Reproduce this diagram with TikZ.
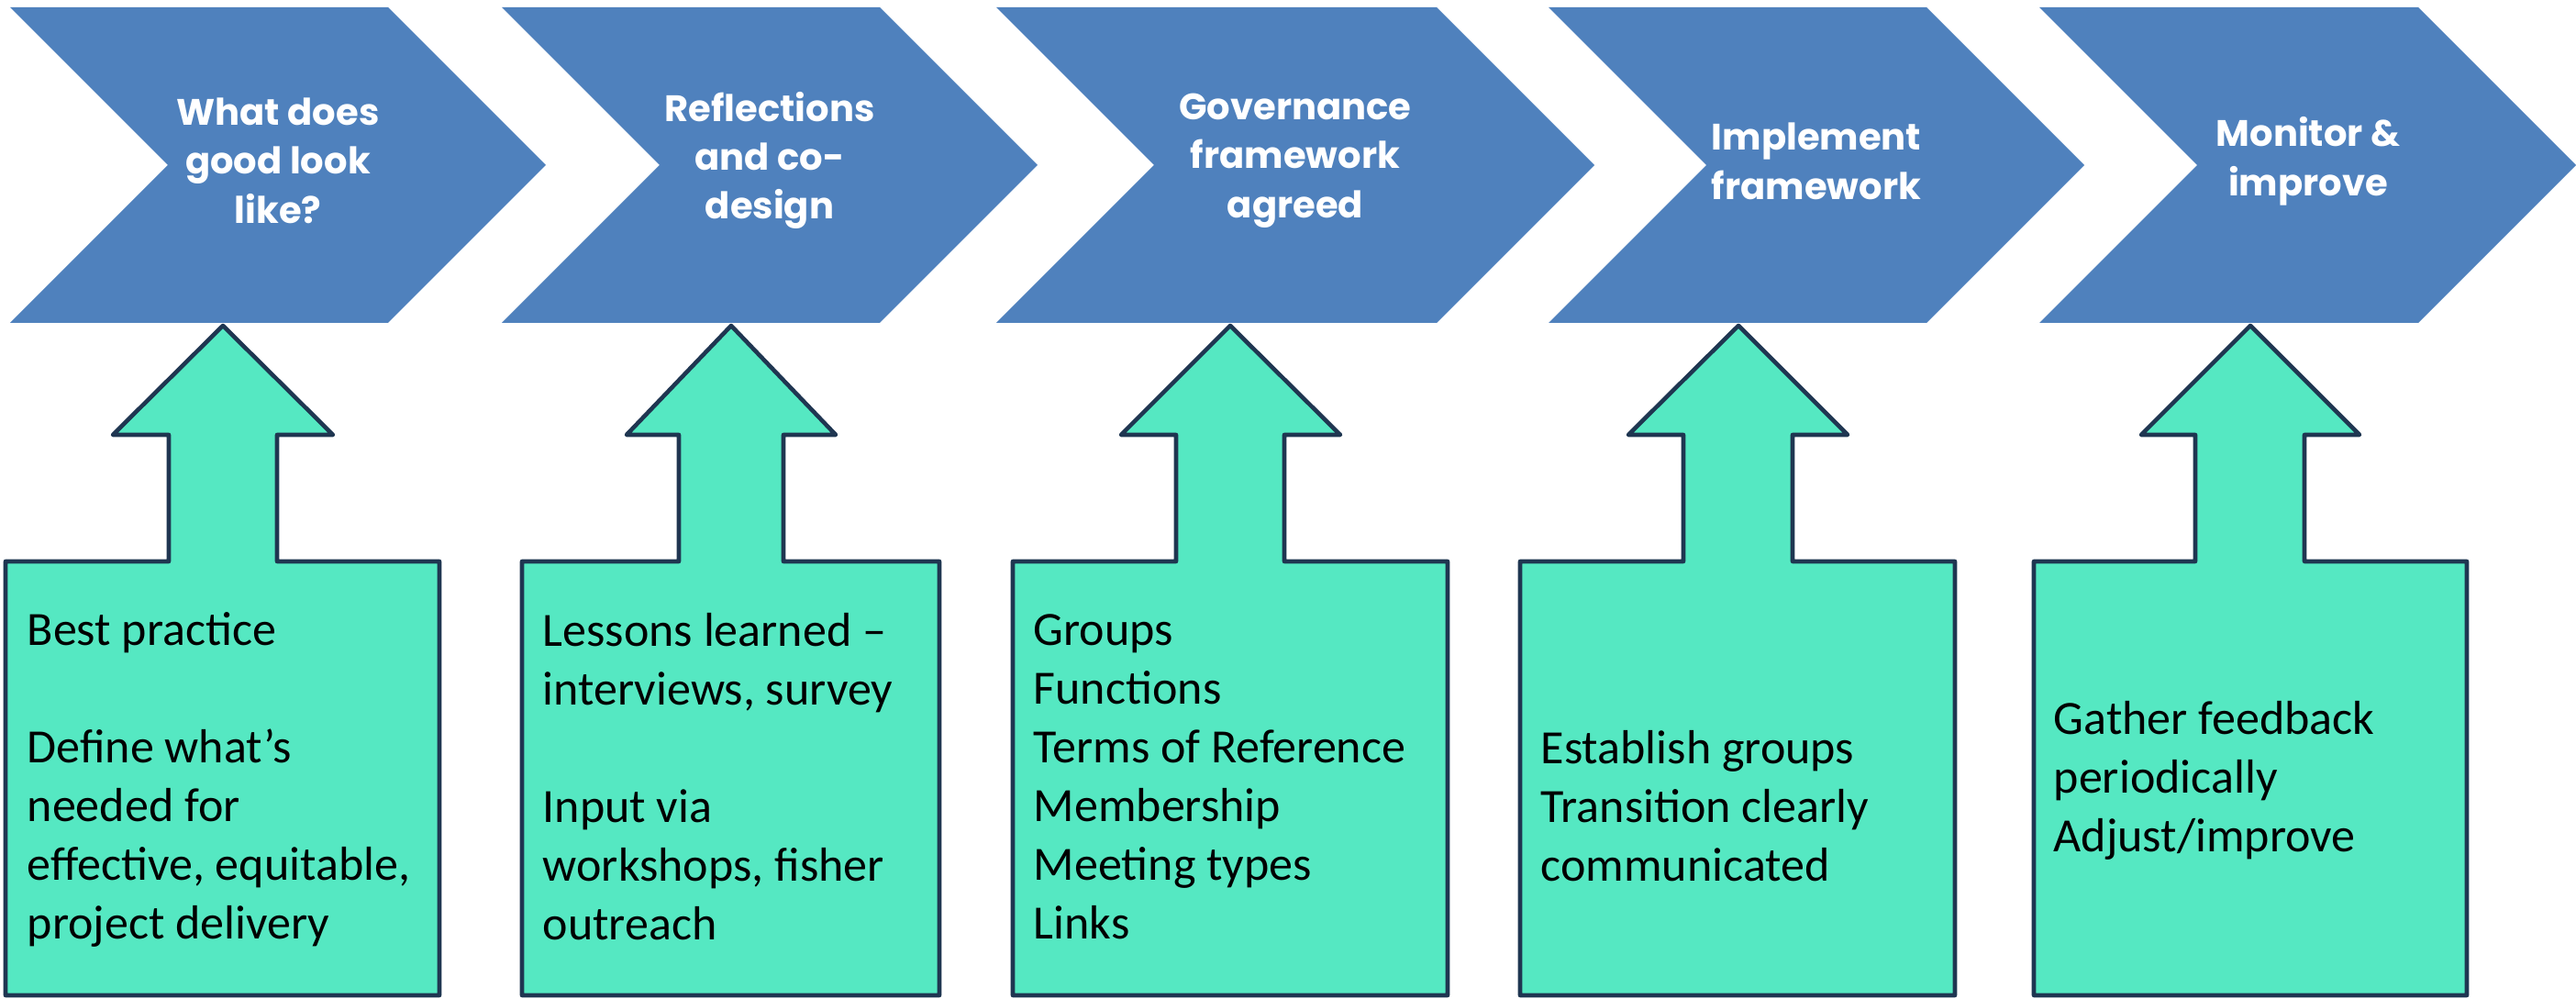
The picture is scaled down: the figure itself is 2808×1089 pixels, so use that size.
\documentclass[tikz,border=0pt]{standalone}
\usepackage{fontspec}
\setmainfont{Carlito}
\newfontfamily\headfont{Poppins}

\definecolor{stageblue}{HTML}{4F81BD}
\definecolor{inputgreen}{HTML}{55E8C2}
\definecolor{edgenavy}{HTML}{1F3651}

\begin{document}
\begin{tikzpicture}[x=0.01cm, y=-0.01cm,
        stage/.style={fill=stageblue},
        stagetext/.style={text=white, align=center, font={\headfont\bfseries\fontsize{11.4}{15.2}\selectfont}},
        inbox/.style={fill=inputgreen, draw=edgenavy, line width=1.3pt, line join=round},
        intext/.style={anchor=base west, align=left, inner sep=0pt, font={\fontsize{14.8}{18.2}\selectfont}}]
        \fill[white] (0,0) rectangle (2808,1089);
        \useasboundingbox (0,0) rectangle (2808,1089);

        % stages
        \fill[stage] (11,8) -- (423,8) -- (595,180) -- (423,352) -- (11,352) -- (183,180) -- cycle;
        \fill[stage] (547,8) -- (959,8) -- (1131,180) -- (959,352) -- (547,352) -- (719,180) -- cycle;
        \fill[stage] (1086,8) -- (1566,8) -- (1738,180) -- (1566,352) -- (1086,352) -- (1258,180) -- cycle;
        \fill[stage] (1688,8) -- (2100,8) -- (2272,180) -- (2100,352) -- (1688,352) -- (1860,180) -- cycle;
        \fill[stage] (2223,8) -- (2636,8) -- (2808,180) -- (2636,352) -- (2223,352) -- (2395,180) -- cycle;

        \node [stagetext] (good) at (303,175) {What does\\good look\\like?};
        \node [stagetext] (codesign) at (839,175) {Reflections\\and co-\\design};
        \node [stagetext] (govern) at (1412,175) {Governance\\framework\\agreed};
        \node [stagetext] (implement) at (1980,176) {Implement\\framework};
        \node [stagetext] (monitor) at (2516,176) {Monitor \&\\improve};

        % inputs
        \draw[inbox] (6,1085) -- (6,612) -- (184,612) -- (184,474) -- (123,474) -- (243,355) -- (363,474) -- (302,474) -- (302,612) -- (479,612) -- (479,1085) -- cycle;
        \draw[inbox] (569,1085) -- (569,612) -- (740,612) -- (740,474) -- (683,474) -- (797,355) -- (911,474) -- (854,474) -- (854,612) -- (1024,612) -- (1024,1085) -- cycle;
        \draw[inbox] (1104,1085) -- (1104,612) -- (1282,612) -- (1282,474) -- (1222,474) -- (1341,355) -- (1461,474) -- (1400,474) -- (1400,612) -- (1578,612) -- (1578,1085) -- cycle;
        \draw[inbox] (1657,1085) -- (1657,612) -- (1835,612) -- (1835,474) -- (1775,474) -- (1895,355) -- (2014,474) -- (1954,474) -- (1954,612) -- (2131,612) -- (2131,1085) -- cycle;
        \draw[inbox] (2217,1085) -- (2217,612) -- (2393,612) -- (2393,474) -- (2334,474) -- (2453,355) -- (2572,474) -- (2512,474) -- (2512,612) -- (2689,612) -- (2689,1085) -- cycle;

        % text sits on the baseline of its last line
        \node [intext] (bestprac) at (29,1024) {Best practice\\[18.2pt]Define what’s\\needed for\\effective, equitable,\\project delivery};
        \node [intext] (lessons) at (591,1025) {Lessons learned –\\interviews, survey\\[18.2pt]Input via\\workshops, fisher\\outreach};
        \node [intext] (groups) at (1126,1024) {Groups\\Functions\\Terms of Reference\\Membership\\Meeting types\\Links};
        \node [intext] (establish) at (1679,961) {Establish groups\\Transition clearly\\communicated};
        \node [intext] (feedback) at (2238,929) {Gather feedback\\periodically\\Adjust/improve};
\end{tikzpicture}
\end{document}
